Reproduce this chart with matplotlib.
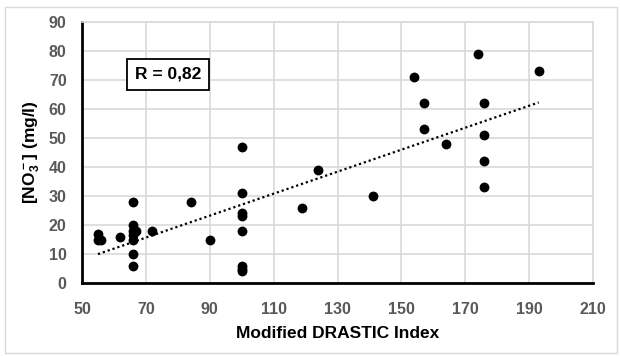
import matplotlib
matplotlib.use("Agg")
import matplotlib.pyplot as plt
import numpy as np
from matplotlib.patches import Rectangle

plt.rcParams['font.family'] = ['Liberation Sans', 'DejaVu Sans']
plt.rcParams['font.weight'] = 'bold'
plt.rcParams['mathtext.fontset'] = 'custom'
plt.rcParams['mathtext.rm'] = 'Liberation Sans:bold'
plt.rcParams['mathtext.bf'] = 'Liberation Sans:bold'
plt.rcParams['mathtext.default'] = 'bf'

drastic = [55, 55, 56, 62,
           66, 66, 66, 66, 66, 66, 66, 67,
           72, 84, 90,
           100, 100, 100, 100, 100, 100, 100, 100,
           119, 124, 141, 154, 157, 157, 164,
           174, 176, 176, 176, 176, 193]
no3 = [17, 15, 15, 16,
       28, 20, 18, 16.5, 15, 10, 6, 18,
       18, 28, 15,
       47, 31, 24, 23, 18, 6, 5, 4,
       26, 39, 30, 71, 62, 53, 48,
       79, 62, 51, 42, 33, 73]

x = np.array(drastic, dtype=float)
y = np.array(no3, dtype=float)

W, H = 620, 356
fig = plt.figure(figsize=(W/100, H/100), dpi=100)
ax = fig.add_axes([82/W, 1-283/H, (593-82)/W, (283-22)/H])

grid_c = '#d9d9d9'
ax.set_xlim(50, 210)
ax.set_ylim(0, 90)
ax.set_xticks(np.arange(50, 211, 20))
ax.set_yticks(np.arange(0, 91, 10))
ax.grid(True, color=grid_c, linewidth=1.2)
ax.set_axisbelow(True)
for s in ['top', 'right']:
    ax.spines[s].set_color(grid_c)
    ax.spines[s].set_linewidth(1.2)
for s in ['left', 'bottom']:
    ax.spines[s].set_color('black')
    ax.spines[s].set_linewidth(2)
ax.tick_params(length=0, labelsize=11.5, labelcolor='#595959')
ax.tick_params(axis='x', pad=14)
ax.tick_params(axis='y', pad=11)

ax.scatter(x, y, s=50, color='black', zorder=3, linewidths=0)

m, b = np.polyfit(x, y, 1)
xs = np.array([x.min(), x.max()])
ax.plot(xs, m*xs + b, color='black', linestyle=(0, (1, 1.3)), linewidth=1.6, zorder=2)

ax.set_xlabel('Modified DRASTIC Index', fontsize=12.5, fontweight='bold', labelpad=6)
ax.set_ylabel(r'[NO$_3^-$] (mg/l)', fontsize=12.5, fontweight='bold', labelpad=5)

ax.text(77, 72, 'R = 0,82', fontsize=12.5, fontweight='bold', ha='center', va='center',
        bbox=dict(boxstyle='square,pad=0.45', facecolor='white', edgecolor='black', linewidth=1.3), zorder=4)

fig.patches.append(Rectangle((5/W, 3/H), 612/W, 1-10/H, transform=fig.transFigure,
                             fill=False, edgecolor='#d9d9d9', linewidth=1))

fig.savefig('out.png', dpi=100)
